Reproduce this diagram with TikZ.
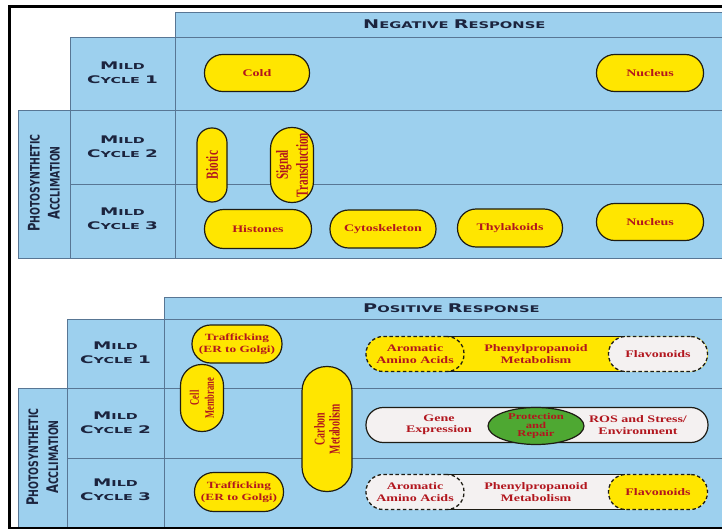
\documentclass[tikz,border=0pt]{standalone}
\usepackage{fontspec}
\usetikzlibrary{shapes.geometric,calc}

% wide caps for the grid labels, stretched serif for the pills
\newfontfamily\capsfont{DejaVu Sans}[FakeStretch=1.6]
\newfontfamily\labelfont{DejaVu Sans}[FakeStretch=1.75]
\newfontfamily\pafont{DejaVu Sans}[FakeStretch=0.72]
\newfontfamily\pillfont{Liberation Serif}[FakeStretch=1.4]
\newfontfamily\vpillfont{Liberation Serif}[FakeStretch=0.66]

% initial capitals of the small-caps labels
\newcommand\headB[1]{{\fontsize{12}{12}\selectfont#1}}
\newcommand\rowB[1]{{\fontsize{10.5}{10.5}\selectfont#1}}
\newcommand\paB[1]{{\fontsize{16}{16}\selectfont#1}}

\definecolor{cellblue}{RGB}{157,208,238}
\definecolor{gridline}{RGB}{88,118,148}
\definecolor{labelink}{RGB}{28,36,62}
\definecolor{pillyellow}{RGB}{255,230,0}
\definecolor{pillwhite}{RGB}{244,241,241}
\definecolor{pillgreen}{RGB}{78,168,50}
\definecolor{pillink}{RGB}{178,22,30}
\definecolor{pilledge}{RGB}{30,28,20}

\tikzset{
  cell/.style={fill=cellblue, draw=gridline, line width=0.8pt},
  header/.style={font=\capsfont\bfseries\fontsize{9.2}{11}\selectfont,
    text=labelink, inner sep=0pt, anchor=west},
  rowlabel/.style={font=\labelfont\bfseries\fontsize{8.2}{14}\selectfont,
    text=labelink, align=center, inner sep=0pt},
  sidelabel/.style={font=\pafont\bfseries\fontsize{13}{20}\selectfont,
    text=labelink, align=center, inner sep=0pt, rotate=90},
  pilltext/.style={text=pillink, align=center, inner sep=0pt,
    font=\pillfont\bfseries\fontsize{10}{11.5}\selectfont},
  pill/.style 2 args={pilltext, rectangle, minimum width=#1pt,
    minimum height=#2pt, rounded corners={0.49*#2pt},
    draw=pilledge, line width=1.2pt},
  vpill/.style 2 args={pill={#1}{#2}, rotate=90,
    font=\vpillfont\bfseries\fontsize{17}{20}\selectfont},
  dashpill/.style={dash pattern=on 3.5pt off 2.5pt, line width=1.3pt},
  edge/.style={draw=pilledge, line width=1.2pt},
}

\begin{document}
\begin{tikzpicture}[x=1pt,y=-1pt]
\useasboundingbox (0,0) rectangle (722,529);

% ---------- negative response grid ----------
\path[cell] (175,12) rectangle (722,37);
\path[cell] (175,37) rectangle (722,110);
\path[cell] (175,110) rectangle (722,184);
\path[cell] (175,184) rectangle (722,258);
\path[cell] (70,37) rectangle (175,110);
\path[cell] (70,110) rectangle (175,184);
\path[cell] (70,184) rectangle (175,258);
\path[cell] (18,110) rectangle (70,258);

\node[header] (neg) at (363,24.5) {\headB{N}EGATIVE \headB{R}ESPONSE};
\node[rowlabel] (negc1) at (122.5,73) {\rowB{M}ILD\\\rowB{C}YCLE \rowB{1}};
\node[rowlabel] (negc2) at (122.5,147) {\rowB{M}ILD\\\rowB{C}YCLE \rowB{2}};
\node[rowlabel] (negc3) at (122.5,219) {\rowB{M}ILD\\\rowB{C}YCLE \rowB{3}};
\node[sidelabel] (negpa) at (44,183) {\paB{P}HOTOSYNTHETIC\\\paB{A}CCLIMATION};

\node[pill={105}{37}, fill=pillyellow] (cold) at (257,73) {Cold};
\node[pill={107}{37}, fill=pillyellow] (nucA) at (650,73) {Nucleus};
\node[vpill={74}{30}, fill=pillyellow] (biotic) at (212,165) {Biotic};
\node[vpill={75}{43}, fill=pillyellow] (signal) at (292,165) {Signal\\Transduction};
\node[pill={107}{39}, fill=pillyellow] (hist) at (258,229) {Histones};
\node[pill={106}{38}, fill=pillyellow] (cyto) at (383,229) {Cytoskeleton};
\node[pill={105}{38}, fill=pillyellow] (thyl) at (510,228) {Thylakoids};
\node[pill={107}{37}, fill=pillyellow] (nucB) at (650,222) {Nucleus};

% ---------- positive response grid ----------
\path[cell] (164,297) rectangle (722,319);
\path[cell] (164,319) rectangle (722,388);
\path[cell] (164,388) rectangle (722,458);
\path[cell] (164,458) rectangle (722,527);
\path[cell] (67,319) rectangle (164,388);
\path[cell] (67,388) rectangle (164,458);
\path[cell] (67,458) rectangle (164,527);
\path[cell] (18,388) rectangle (67,527);

\node[header] (pos) at (363,308) {\headB{P}OSITIVE \headB{R}ESPONSE};
\node[rowlabel] (posc1) at (115.5,353) {\rowB{M}ILD\\\rowB{C}YCLE \rowB{1}};
\node[rowlabel] (posc2) at (115.5,423) {\rowB{M}ILD\\\rowB{C}YCLE \rowB{2}};
\node[rowlabel] (posc3) at (115.5,490) {\rowB{M}ILD\\\rowB{C}YCLE \rowB{3}};
\node[sidelabel] (pospa) at (42.5,457) {\paB{P}HOTOSYNTHETIC\\\paB{A}CCLIMATION};

\node[pill={90}{38}, fill=pillyellow,
  font=\pillfont\bfseries\fontsize{9.5}{11.5}\selectfont] (trafA) at (237,344) {Trafficking\\(ER to Golgi)};
\node[vpill={67}{43}, fill=pillyellow,
  font=\vpillfont\bfseries\fontsize{13}{15}\selectfont] (cellm) at (202,398) {Cell\\Membrane};
\node[vpill={125}{50}, fill=pillyellow,
  font=\vpillfont\bfseries\fontsize{15}{15}\selectfont] (carbon) at (327,429) {Carbon\\Metabolism};
\node[pill={89}{39}, fill=pillyellow,
  font=\pillfont\bfseries\fontsize{9.5}{11.5}\selectfont] (trafB) at (239,492) {Trafficking\\(ER to Golgi)};

% phenylpropanoid band, cycle 1
\node[pill={342}{35}, fill=pillyellow, draw=none] (phenA) at (537,354) {};
\node[pill={98}{35}, fill=pillyellow, dashpill] (aroA) at (415,354) {Aromatic\\Amino Acids};
\node[pill={99}{35}, fill=pillwhite, dashpill] (flavA) at (658,354) {Flavonoids};
\draw[edge] ($(aroA.east |- phenA.north)+(-17,0.6)$) -- ($(flavA.west |- phenA.north)+(17,0.6)$);
\draw[edge] ($(aroA.east |- phenA.south)+(-17,-0.6)$) -- ($(flavA.west |- phenA.south)+(17,-0.6)$);
\node[pilltext] (phenAtxt) at (536,354) {Phenylpropanoid\\Metabolism};

% gene expression band, cycle 2
\node[pill={342}{35}, fill=pillwhite] (genes) at (537,425) {};
\node[pilltext] (gene) at (439,425) {Gene\\Expression};
\node[ellipse, minimum width=96pt, minimum height=37pt, fill=pillgreen, edge,
  inner sep=0pt, text=pillink, align=center,
  font=\pillfont\bfseries\fontsize{9}{8.5}\selectfont] (prot) at (536,426) {Protection\\and\\Repair};
\node[pilltext] (ros) at (638,425) {ROS and Stress/\\Environment};

% phenylpropanoid band, cycle 3
\node[pill={342}{35}, fill=pillwhite, draw=none] (phenB) at (537,492) {};
\node[pill={98}{35}, fill=pillwhite, dashpill] (aroB) at (415,492) {Aromatic\\Amino Acids};
\node[pill={99}{35}, fill=pillyellow, dashpill] (flavB) at (658,492) {Flavonoids};
\draw[edge] ($(aroB.east |- phenB.north)+(-17,0.6)$) -- ($(flavB.west |- phenB.north)+(17,0.6)$);
\draw[edge] ($(aroB.east |- phenB.south)+(-17,-0.6)$) -- ($(flavB.west |- phenB.south)+(17,-0.6)$);
\node[pilltext] (phenBtxt) at (536,492) {Phenylpropanoid\\Metabolism};

% outer frame
\draw[line width=3pt, black] (722,6.5) -- (9.5,6.5) -- (9.5,528) -- (722,528);
\end{tikzpicture}
\end{document}
